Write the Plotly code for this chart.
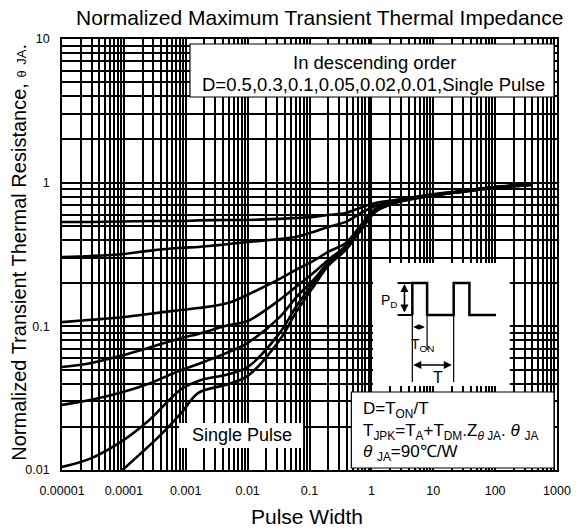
import plotly.graph_objects as go

# ---------------- data ----------------
t_grid = [1e-5, 3e-5, 1e-4, 2.5e-4, 8.5e-4, 1.6e-3, 5e-3, 1e-2, 3.3e-2, 0.06, 0.115,
          0.2, 0.385, 0.72, 1.16, 2.4, 8, 28, 94, 380]
z_d050 = [0.533, 0.533, 0.537, 0.541, 0.541, 0.546, 0.550, 0.550, 0.560, 0.568, 0.578,
          0.596, 0.615, 0.678, 0.722, 0.758, 0.820, 0.875, 0.933, 0.980]
z_d030 = [0.304, 0.309, 0.319, 0.335, 0.352, 0.357, 0.374, 0.386, 0.405, 0.419, 0.454,
          0.492, 0.533, 0.625, 0.689, 0.746, 0.815, 0.869, 0.927, 0.972]
z_d010 = [0.107, 0.111, 0.116, 0.122, 0.130, 0.134, 0.146, 0.166, 0.214, 0.247, 0.285,
          0.330, 0.380, 0.524, 0.657, 0.734, 0.808, 0.869, 0.927, 0.972]
z_d005 = [0.0521, 0.0556, 0.0632, 0.0708, 0.083, 0.0886, 0.102, 0.109, 0.153, 0.188, 0.235,
          0.290, 0.363, 0.508, 0.646, 0.734, 0.808, 0.869, 0.927, 0.972]
z_d002 = [0.0284, 0.0308, 0.035, 0.0398, 0.0497, 0.0547, 0.0664, 0.0767, 0.116, 0.158, 0.210,
          0.276, 0.351, 0.500, 0.636, 0.728, 0.808, 0.862, 0.927, 0.972]
z_d001 = [0.0105, 0.0121, 0.0162, 0.022, 0.0366, 0.0417, 0.0466, 0.0521, 0.090, 0.136, 0.200,
          0.272, 0.346, 0.492, 0.631, 0.722, 0.802, 0.862, 0.918, 0.964]
t_single = [7.8e-5, 1.75e-4, 3.64e-4, 8.5e-4, 1.6e-3, 5e-3, 1e-2, 3.3e-2, 0.06, 0.115,
            0.2, 0.385, 0.72, 1.16, 2.4, 8, 28, 94, 380]
z_single = [0.00925, 0.0127, 0.017, 0.025, 0.0344, 0.0397, 0.0452, 0.0804, 0.124, 0.188,
            0.263, 0.340, 0.484, 0.625, 0.722, 0.802, 0.862, 0.918, 0.964]

x_tickvals = [1e-5, 1e-4, 1e-3, 1e-2, 1e-1, 1, 10, 100, 1000]
x_ticktext = ["0.00001", "0.0001", "0.001", "0.01", "0.1", "1", "10", "100", "1000"]
y_tickvals = [0.01, 0.1, 1, 10]
y_ticktext = ["0.01", "0.1", "1", "10"]

series = [
    ("D=0.5", t_grid, z_d050),
    ("D=0.3", t_grid, z_d030),
    ("D=0.1", t_grid, z_d010),
    ("D=0.05", t_grid, z_d005),
    ("D=0.02", t_grid, z_d002),
    ("D=0.01", t_grid, z_d001),
    ("Single Pulse", t_single, z_single),
]

# ---------------- layout geometry ----------------
W, H = 583, 530
L, R, T, B = 62, 18, 39, 60
PW, PH = W - L - R, H - T - B
FONT = "Liberation Sans, Arial, sans-serif"


def X(px):
    return (px - L) / PW


def Y(py):
    return (H - B - py) / PH


fig = go.Figure()
for name, xs, ys in series:
    fig.add_trace(go.Scatter(
        x=xs, y=ys, name=name, mode="lines",
        line=dict(color="black", width=2.6, shape="spline", smoothing=1.0),
        showlegend=False, hoverinfo="x+y+name"))

GC, GW = "#000000", 1.6
fig.update_xaxes(type="log", range=[-5, 3], tickmode="array",
                 tickvals=x_tickvals, ticktext=x_ticktext,
                 showgrid=True, gridcolor=GC, gridwidth=GW,
                 minor=dict(dtick="D1", showgrid=True, gridcolor=GC, gridwidth=GW),
                 showline=True, mirror=True, linecolor="black", linewidth=1.6,
                 ticks="", ticklabelstandoff=8,
                 tickfont=dict(family=FONT, size=12.5, color="black"), zeroline=False)
fig.update_yaxes(type="log", range=[-2, 1], tickmode="array",
                 tickvals=y_tickvals, ticktext=y_ticktext,
                 showgrid=True, gridcolor=GC, gridwidth=GW,
                 minor=dict(dtick="D1", showgrid=True, gridcolor=GC, gridwidth=GW),
                 showline=True, mirror=True, linecolor="black", linewidth=1.6,
                 ticks="", ticklabelstandoff=8,
                 tickfont=dict(family=FONT, size=12.5, color="black"), zeroline=False)

shapes = []
# white boxes over the grid
shapes.append(dict(type="rect", xref="paper", yref="paper", x0=X(192), x1=X(562),
                   y0=Y(97), y1=Y(44), fillcolor="white",
                   line=dict(color="black", width=1.2), layer="above"))
shapes.append(dict(type="rect", xref="paper", yref="paper", x0=X(181), x1=X(307),
                   y0=Y(448), y1=Y(423), fillcolor="white", line=dict(width=0), layer="above"))
shapes.append(dict(type="rect", xref="paper", yref="paper", x0=X(378), x1=X(517),
                   y0=Y(386), y1=Y(263), fillcolor="white", line=dict(width=0), layer="above"))
shapes.append(dict(type="rect", xref="paper", yref="paper", x0=X(356), x1=X(562),
                   y0=Y(468), y1=Y(392), fillcolor="white",
                   line=dict(color="black", width=1.2), layer="above"))

# pulse waveform of the inset
wave = [(418, 315), (418, 283), (433, 283), (433, 315), (460, 315), (460, 283),
        (476, 283), (476, 315), (503, 315)]
path = "M " + " L ".join(f"{X(a):.5f},{Y(b):.5f}" for a, b in wave)
shapes.append(dict(type="path", xref="paper", yref="paper", path=path,
                   line=dict(color="black", width=2.5), layer="above"))
for (a0, b0, a1, b1, w) in [(403, 283, 418, 283, 2), (403, 315, 418, 315, 2),
                            (418, 315, 418, 382, 1.2), (433, 315, 433, 350, 1.2),
                            (460, 315, 460, 382, 1.2)]:
    shapes.append(dict(type="line", xref="paper", yref="paper", x0=X(a0), y0=Y(b0),
                       x1=X(a1), y1=Y(b1), line=dict(color="black", width=w), layer="above"))

ann = []
# double-headed arrows
for (hx, hy, ax, ay, sz) in [(410, 284, 0, 30, 1.0), (419, 327, 13, 0, 0.7),
                             (419, 365, 40, 0, 1.0)]:
    ann.append(dict(xref="paper", yref="paper", x=X(hx), y=Y(hy), ax=ax, ay=ay,
                    text="", showarrow=True, arrowhead=2, arrowsize=sz, arrowwidth=1.6,
                    arrowside="end+start", arrowcolor="black"))


def txt(s, px, py, size=16, xanchor="center", **kw):
    ann.append(dict(xref="paper", yref="paper", x=X(px), y=Y(py), text=s,
                    showarrow=False, xanchor=xanchor, yanchor="middle",
                    font=dict(family=FONT, size=size, color="black"), **kw))


txt("P<sub>D</sub>", 394, 301, size=14)
txt("T<sub>ON</sub>", 428, 345, size=14)
txt("T", 444, 377, size=16)

txt("In descending order", 380, 62, size=18.5)
txt("D=0.5,0.3,0.1,0.05,0.02,0.01,Single Pulse", 379, 84, size=18.5)
txt("Single Pulse", 245, 435, size=18)

txt("D=T<sub>ON</sub>/T", 366, 410, size=17, xanchor="left")
txt("T<sub>JPK</sub>=T<sub>A</sub>+T<sub>DM</sub>.Z<sub><i>θ</i> JA</sub>. <i>θ</i> <sub>JA</sub>",
    366, 432, size=17, xanchor="left")
txt("<i>θ</i> <sub>JA</sub>=90℃/W", 366, 453, size=17, xanchor="left")

# titles
txt("Normalized Maximum Transient Thermal Impedance", 324, 17, size=21)
txt("Pulse Width", 311, 516, size=21)
ann.append(dict(xref="paper", yref="paper", x=X(18), y=Y(252), textangle=-90,
                text="Normalized Transient Thermal Resistance, "
                     "<span style='font-size:13px'>θ</span> <span style='font-size:13px'>JA</span>.",
                showarrow=False, xanchor="center", yanchor="middle",
                font=dict(family=FONT, size=20, color="black")))

fig.update_layout(width=W, height=H, margin=dict(l=L, r=R, t=T, b=B),
                  paper_bgcolor="white", plot_bgcolor="white",
                  shapes=shapes, annotations=ann, showlegend=False)

fig.write_html("out.html", config={"displayModeBar": False},
               post_script="document.body.style.margin='0px';document.body.style.padding='0px';")
